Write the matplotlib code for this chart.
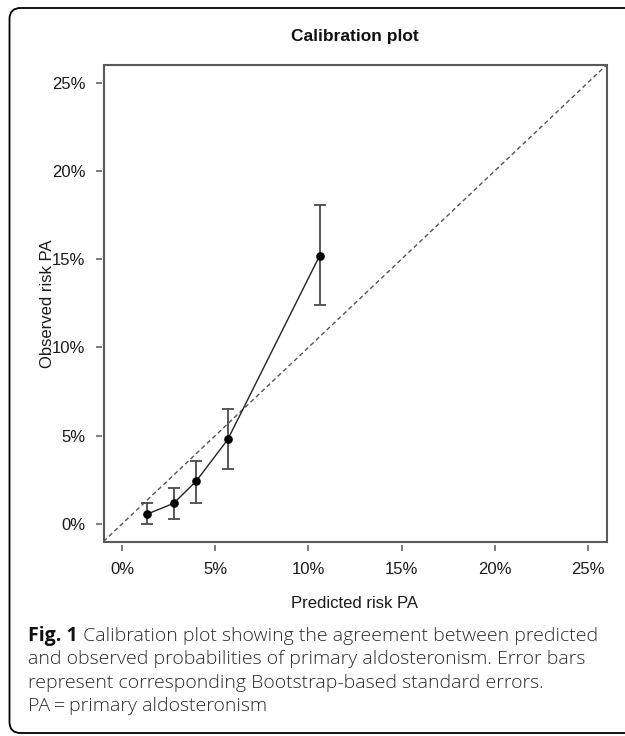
import matplotlib
matplotlib.use("Agg")
import matplotlib.pyplot as plt
from matplotlib.patches import Rectangle, FancyBboxPatch
from matplotlib.transforms import IdentityTransform

# ---- data ----
predicted = [0.0136, 0.0276, 0.0396, 0.0567, 0.1060]
observed = [0.0056, 0.0116, 0.0240, 0.0478, 0.1519]
err_lower = [0.0000, 0.0030, 0.0118, 0.0311, 0.1241]
err_upper = [0.0118, 0.0203, 0.0357, 0.0649, 0.1807]
tick_values = [0.0, 0.05, 0.10, 0.15, 0.20, 0.25]
tick_labels = ["0%", "5%", "10%", "15%", "20%", "25%"]
axis_lim = [-0.01, 0.26]

title = "Calibration plot"
xlabel = "Predicted risk PA"
ylabel = "Observed risk PA"
caption_bold = "Fig. 1"
caption_lines = [
    " Calibration plot showing the agreement between predicted",
    "and observed probabilities of primary aldosteronism. Error bars",
    "represent corresponding Bootstrap-based standard errors.",
    "PA\u2009=\u2009primary aldosteronism",
]

W, H = 625, 736
fig = plt.figure(figsize=(W / 100, H / 100), dpi=100)
fig.patch.set_facecolor("white")

plot_font = "Liberation Sans"
cap_font = ["Open Sans", "DejaVu Sans"]

# axes placement (pixels)
L, R, T, B = 103.5, 606.5, 65.0, 541.5
ax = fig.add_axes([L / W, (H - B) / H, (R - L) / W, (B - T) / H])
ax.set_xlim(axis_lim)
ax.set_ylim(axis_lim)

for s in ax.spines.values():
    s.set_visible(False)
ax.spines["bottom"].set_position(("outward", 2.6))
ax.spines["left"].set_position(("outward", 1.2))

box_col = "#5a5a5a"
ax.add_patch(Rectangle((0, 0), 1, 1, transform=ax.transAxes, fill=False,
                       edgecolor=box_col, lw=1.5, clip_on=False, zorder=5))

ax.set_xticks(tick_values)
ax.set_yticks(tick_values)
ax.set_xticklabels(tick_labels, fontfamily=plot_font)
ax.set_yticklabels(tick_labels, fontfamily=plot_font)
ax.tick_params(axis="both", which="major", length=4.5, width=1.1, color=box_col,
               labelsize=12, labelcolor="#1a1a1a")
ax.tick_params(axis="x", pad=8)
ax.tick_params(axis="y", pad=7.5)

# diagonal reference
ax.plot(axis_lim, axis_lim, color="#555555", lw=1.0, dashes=(3.2, 2.2), zorder=2)

# error bars + curve
yerr = [[o - lo for o, lo in zip(observed, err_lower)],
        [hi - o for o, hi in zip(observed, err_upper)]]
ax.errorbar(predicted, observed, yerr=yerr, fmt="none", ecolor="#4a4a4a",
            elinewidth=1.3, capsize=4.0, capthick=1.3, zorder=3)
ax.plot(predicted, observed, color="#222222", lw=1.0, zorder=4)
ax.plot(predicted, observed, "o", color="black", ms=5.2, zorder=6)

cx = (L + R) / 2 / W
fig.text(cx, 1 - 37 / H, title, ha="center", va="center", fontsize=12.5,
         fontweight="bold", fontfamily=plot_font, color="#111111")
fig.text(cx, 1 - 603 / H, xlabel, ha="center", va="center", fontsize=12,
         fontfamily=plot_font, color="#1a1a1a")
fig.text(47 / W, 1 - ((T + B) / 2) / H, ylabel, ha="center", va="center",
         rotation=90, fontsize=12, fontfamily=plot_font, color="#1a1a1a")

# outer rounded frame
frame = FancyBboxPatch((9.5, 3), 660, 725, boxstyle="round,pad=0,rounding_size=11",
                       transform=IdentityTransform(), fill=False, edgecolor="black",
                       lw=1.3, clip_on=False)
fig.patches.append(frame)

# caption
cap_size = 14.0
cap_col = "#2a2a2a"
baselines = [641, 664.3, 687.6, 711]
x0 = 28 / W
fig.canvas.draw()
renderer = fig.canvas.get_renderer()
tb = fig.text(x0, 1 - baselines[0] / H, caption_bold, ha="left", va="baseline",
              fontsize=cap_size, fontweight="bold", fontfamily=cap_font, color="#111111")
bb = tb.get_window_extent(renderer=renderer)
fig.text(bb.x1 / W, 1 - baselines[0] / H, caption_lines[0], ha="left", va="baseline",
         fontsize=cap_size, fontweight="light", fontfamily=cap_font, color=cap_col)
for line, yb in zip(caption_lines[1:], baselines[1:]):
    fig.text(x0, 1 - yb / H, line, ha="left", va="baseline",
             fontsize=cap_size, fontweight="light", fontfamily=cap_font, color=cap_col)

fig.savefig("out.png", dpi=100)
